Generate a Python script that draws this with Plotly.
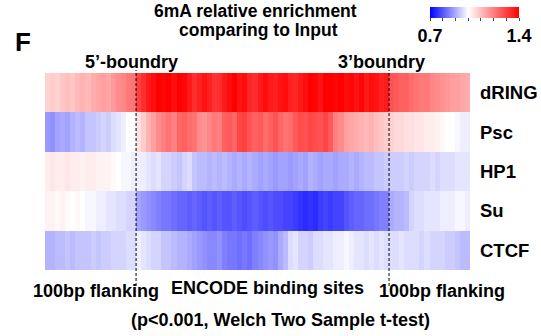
import plotly.graph_objects as go

# ---- data ----
rows = ["dRING", "Psc", "HP1", "Su", "CTCF"]

dRING = [1.07,1.08,1.07,1.09,1.10,1.09,1.11,1.12,1.11,1.13,1.14,1.15,1.14,1.16,1.18,1.19,1.21,1.22,
         1.30,1.33,1.36,1.38,1.40,1.39,1.40,1.38,1.40,1.39,
         1.36,1.33,1.35,1.37,1.35,1.32,1.33,1.36,1.38,1.40,
         1.37,1.38,1.34,1.33,1.36,1.38,1.36,1.35,1.37,1.38,
         1.35,1.34,1.36,1.38,1.40,1.39,1.37,1.40,1.40,1.39,
         1.40,1.38,1.39,1.37,1.39,1.36,1.38,1.37,1.35,1.36,
         1.27,1.26,1.25,1.25,1.23,1.22,1.21,1.21,1.19,1.18,1.17,1.16,1.15,1.15,1.14,1.13]

Psc = [0.88,0.87,0.89,0.90,0.89,0.91,0.92,0.91,0.93,0.93,0.94,0.95,0.94,0.96,0.97,0.98,1.00,1.00,
       1.05,1.08,1.12,1.15,1.18,1.20,1.22,1.20,1.24,1.25,
       1.23,1.22,1.18,1.17,1.19,1.21,1.20,1.25,1.26,1.24,
       1.29,1.30,1.27,1.25,1.26,1.23,1.25,1.27,1.24,1.22,
       1.23,1.26,1.28,1.27,1.29,1.28,1.27,1.29,1.26,1.20,
       1.18,1.15,1.14,1.13,1.12,1.11,1.12,1.10,1.09,1.08,
       1.07,1.06,1.06,1.05,1.05,1.04,1.04,1.03,1.03,1.02,1.01,1.00,1.00,0.99,0.98,0.98]

HP1 = [1.03,1.04,1.03,1.03,1.04,1.03,1.03,1.02,1.03,1.03,1.02,1.02,1.02,1.01,1.00,0.99,0.99,0.98,
       0.98,0.98,0.97,0.96,0.97,0.95,0.95,0.94,0.93,0.95,
       0.96,0.93,0.92,0.92,0.91,0.92,0.91,0.92,0.91,0.90,
       0.91,0.90,0.91,0.90,0.89,0.90,0.89,0.88,0.89,0.89,
       0.88,0.89,0.90,0.89,0.91,0.90,0.89,0.90,0.90,0.89,
       0.90,0.90,0.91,0.90,0.91,0.92,0.92,0.93,0.93,0.94,
       0.94,0.94,0.94,0.95,0.94,0.95,0.95,0.95,0.96,0.95,0.96,0.96,0.96,0.97,0.97,0.97]

Su = [1.02,1.02,1.01,1.02,1.01,1.00,1.01,1.00,0.99,0.99,0.98,0.98,0.97,0.97,0.96,0.96,0.95,0.95,
      0.89,0.88,0.87,0.86,0.85,0.84,0.84,0.83,0.82,0.82,
      0.81,0.82,0.81,0.80,0.81,0.80,0.81,0.80,0.80,0.81,
      0.80,0.79,0.80,0.81,0.80,0.79,0.80,0.79,0.79,0.78,
      0.78,0.77,0.76,0.75,0.76,0.75,0.77,0.78,0.77,0.78,
      0.78,0.80,0.81,0.82,0.82,0.83,0.83,0.84,0.85,0.85,
      0.90,0.91,0.91,0.92,0.95,0.96,0.96,0.97,0.97,0.97,0.98,0.98,0.98,0.99,0.99,0.98]

CTCF = [0.91,0.91,0.92,0.92,0.93,0.92,0.93,0.93,0.93,0.94,0.93,0.94,0.94,0.95,0.95,0.95,0.96,0.96,
        0.98,0.97,0.96,0.95,0.95,0.93,0.93,0.92,0.91,0.91,
        0.90,0.89,0.88,0.87,0.86,0.86,0.87,0.85,0.84,0.84,
        0.83,0.84,0.83,0.85,0.86,0.87,0.88,0.87,0.90,0.92,
        0.96,0.97,0.95,0.95,0.94,0.96,0.96,0.97,0.97,0.98,
        0.98,0.99,0.98,0.97,0.97,0.96,0.97,0.96,0.97,0.96,
        0.96,0.96,0.97,0.96,0.96,0.96,0.95,0.96,0.95,0.95,0.95,0.94,0.94,0.93,0.92,0.92]

n_left, n_mid, n_right = 18, 50, 16
positions = list(range(n_left + n_mid + n_right))
boundaries = [n_left - 0.5, n_left + n_mid - 0.5]

cbar_ticks = [0.7, 0.8, 0.9, 1.0, 1.1, 1.2, 1.3, 1.4]
cbar_text = ["0.7", "", "", "", "", "", "", "1.4"]

z = [dRING, Psc, HP1, Su, CTCF]
for r in z:
    assert len(r) == len(positions)

# ---- figure ----
W, H = 541, 336
L, R, T, B = 45, 71, 73, 66
pw, ph = W - L - R, H - T - B

def px(x):
    return (x - L) / pw

def py(y):
    return (H - B - y) / ph

FONT = "Liberation Sans, Arial, sans-serif"

fig = go.Figure(go.Heatmap(
    z=z, x=positions, y=rows,
    zmin=0.7, zmax=1.4,
    colorscale=[[0, "rgb(0,0,255)"], [0.3 / 0.7, "rgb(255,255,255)"], [1, "rgb(255,0,0)"]],
    xgap=0, ygap=0,
    colorbar=dict(
        orientation="h", xref="paper", yref="paper",
        x=px(474.5), xanchor="center", y=py(7), yanchor="top",
        lenmode="pixels", len=89, thicknessmode="pixels", thickness=11,
        xpad=0, ypad=0, outlinewidth=0,
        tickvals=cbar_ticks, ticktext=cbar_text,
        ticks="outside", ticklen=3, tickcolor="#444", tickwidth=1,
        tickfont=dict(family=FONT, size=18, color="black", weight="bold"),
    ),
))

fig.update_layout(
    width=W, height=H,
    margin=dict(l=L, r=R, t=T, b=B, autoexpand=False),
    paper_bgcolor="white", plot_bgcolor="white",
    xaxis=dict(visible=False, range=[-0.5, len(positions) - 0.5]),
    yaxis=dict(side="right", autorange="reversed", showgrid=False, zeroline=False,
               ticks="", ticklabelstandoff=9, automargin=False,
               tickfont=dict(family=FONT, size=18.5, color="black", weight="bold")),
    font=dict(family=FONT, color="black"),
)

for xb in boundaries:
    fig.add_shape(type="line", xref="x", yref="paper", x0=xb, x1=xb,
                  y0=py(286), y1=py(70),
                  line=dict(color="black", width=1, dash="3px,2px"))

def ann(text, x, y, size=18):
    fig.add_annotation(text=text, x=px(x), y=py(y), xref="paper", yref="paper",
                       xanchor="center", yanchor="middle", showarrow=False,
                       font=dict(family=FONT, size=size, color="black", weight="bold"))

ann("6mA relative enrichment", 255.5, 11, size=17.5)
ann("comparing to Input", 258.5, 30, size=17.5)
ann("F", 22.5, 42, size=26)
ann("5’-boundry", 131.5, 62)
ann("3’boundry", 381.5, 62)
ann("100bp flanking", 95.5, 291)
ann("ENCODE binding sites", 267.5, 288)
ann("100bp flanking", 441.5, 291)
ann("(p<0.001, Welch Two Sample t-test)", 280.5, 320)

fig.write_html("out.html")
